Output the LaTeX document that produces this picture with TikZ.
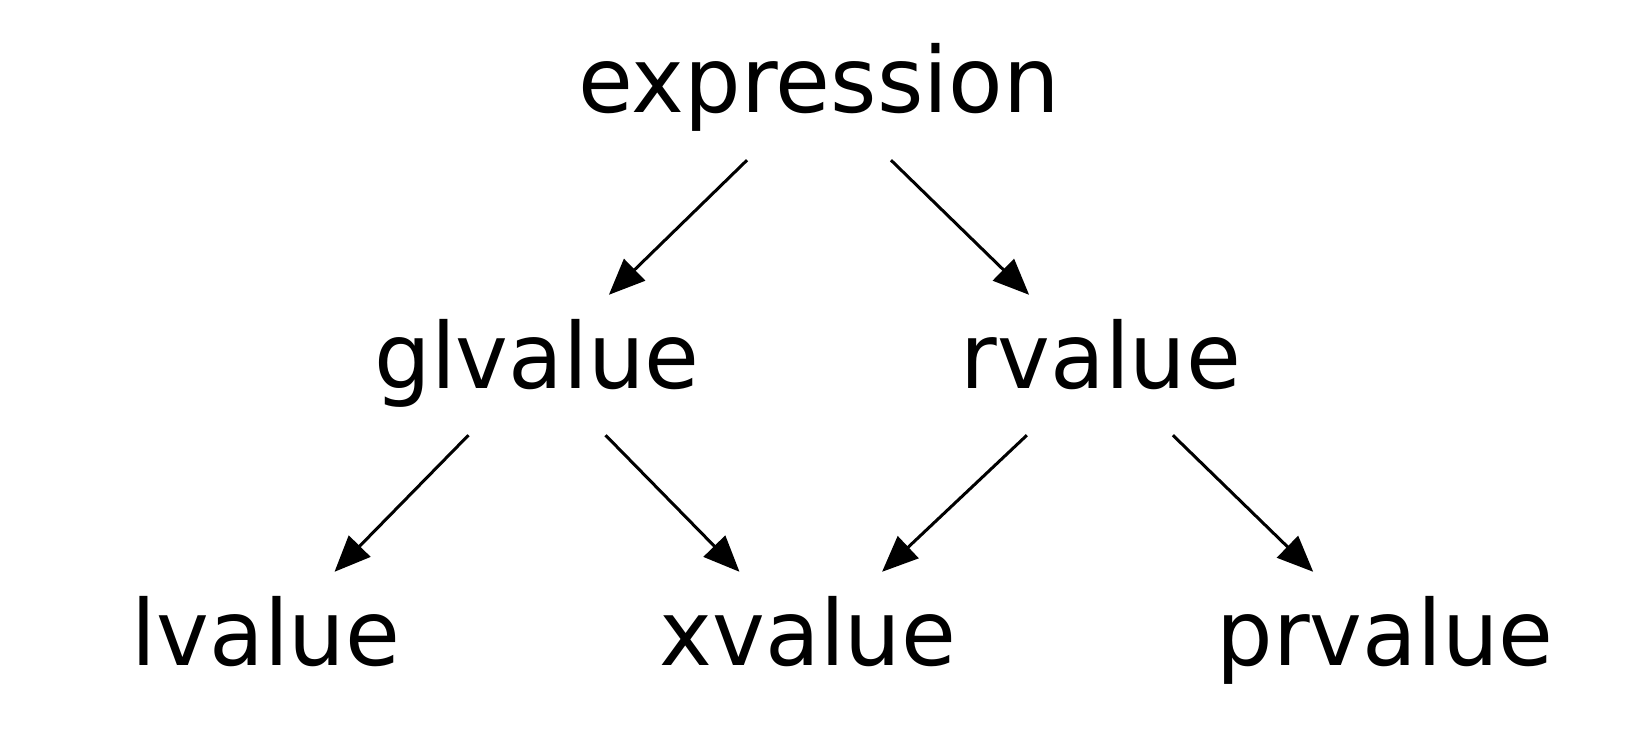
\documentclass[tikz,border=0pt]{standalone}
\usepackage{fontspec}
\setmainfont{DejaVu Sans}[FakeStretch=0.98]
\usetikzlibrary{arrows.meta}
\begin{document}
\begin{tikzpicture}[x=1pt,y=-1pt,
  term/.style={rectangle,inner sep=0pt,text height=93pt,text depth=47pt,
    font=\fontsize{91}{100}\selectfont},
  edge/.style={line width=3pt,-{Triangle[length=36pt,width=30pt]}}]
\useasboundingbox (0,0) rectangle (1635,746);
\node[term] (expr) at (819,90) {expression};
\node[term] (gl) at (537,365) {glvalue};
\node[term] (rv) at (1101,365) {rvalue};
\node[term] (lv) at (266,642) {lvalue};
\node[term] (xv) at (808,642) {xvalue};
\node[term] (pr) at (1385,642) {prvalue};
\draw[edge] (expr) -- (gl);
\draw[edge] (expr) -- (rv);
\draw[edge] (gl) -- (lv);
\draw[edge] (gl) -- (xv);
\draw[edge] (rv) -- (xv);
\draw[edge] (rv) -- (pr);
\end{tikzpicture}
\end{document}
